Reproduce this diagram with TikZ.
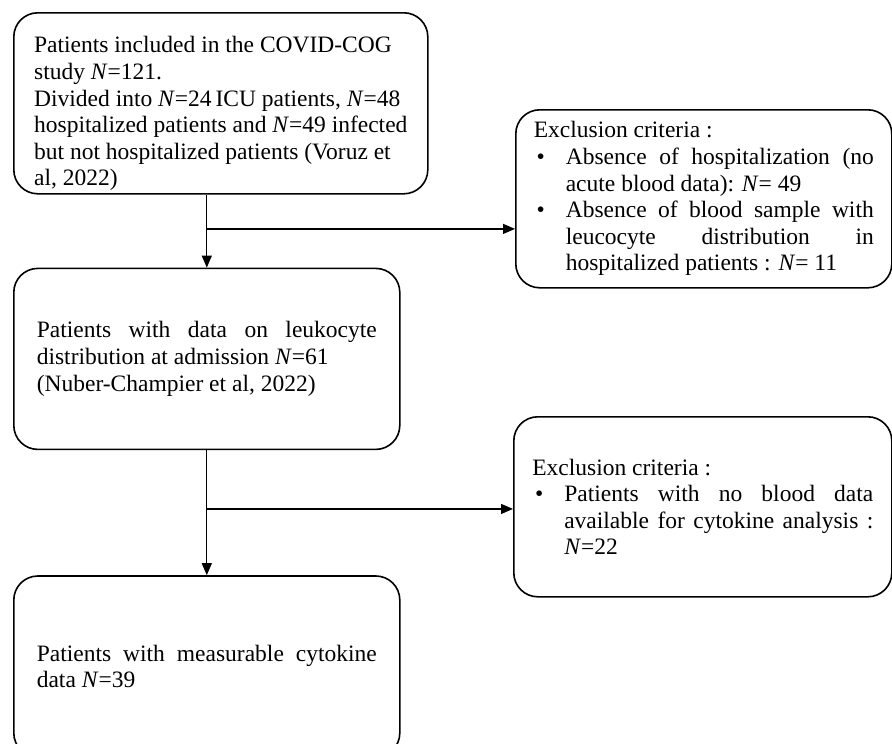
\documentclass[tikz,border=0pt]{standalone}
\usepackage{fontspec}
\setmainfont{Liberation Serif}
\usetikzlibrary{arrows.meta, positioning, calc}
\setlength{\parindent}{0pt}
\newcommand{\exclitem}[1]{\par\noindent\hangindent=32pt\hangafter=0\llap{\textbullet\hspace{21pt}}#1\par}

\begin{document}
\begin{tikzpicture}[
            x=1pt, y=1pt,
            node distance=73pt,
            roundbox/.style={draw=black, line width=1.6pt, rounded corners=24pt, inner sep=0pt,
                font=\fontsize{23.5}{26.6}\selectfont, align=justify},
            arrowline/.style={line width=1.2pt, -{Triangle[width=10pt, length=12pt]}},
            ]
            \useasboundingbox (0,0) rectangle (892,-744);
            \node[roundbox, align=left, minimum width=414pt, minimum height=181pt, anchor=north west] (incl) at (13,-12)
                {\rule{0pt}{37pt}Patients included in the COVID-COG\\ study \textit{N}=121.\\ Divided into \textit{N}=24\,ICU patients, \textit{N}=48\\ hospitalized patients and \textit{N}=49 infected\\ but not hospitalized patients (Voruz et\\ al, 2022)};
            \node[roundbox, minimum width=386pt, minimum height=181pt, text width=340pt,
                below=73pt of incl.south west, anchor=north west] (leuko)
                {Patients with data on leukocyte\linebreak distribution at admission \textit{N}=61\hfil\break (Nuber-Champier et al, 2022)};
            \node[roundbox, minimum width=386pt, minimum height=181pt, text width=340pt,
                below=125pt of leuko.south west, anchor=north west] (cyto)
                {Patients with measurable cytokine\linebreak data \textit{N}=39};
            \node[roundbox, minimum width=376pt, minimum height=178pt, text width=340pt, anchor=north west] (excl1) at (515,-109)
                {Exclusion criteria :\par
                \exclitem{Absence of hospitalization (no\linebreak acute blood data): \textit{N}= 49}
                \exclitem{Absence of blood sample with\linebreak leucocyte distribution in\linebreak hospitalized patients : \textit{N}= 11}};
            \node[roundbox, minimum width=378pt, minimum height=180pt, text width=341pt, anchor=north west] (excl2) at (513,-416)
                {Exclusion criteria :\par
                \exclitem{Patients with no blood data\linebreak available for cytokine analysis :\linebreak \textit{N}=22}};

            \coordinate (split1) at ($(leuko.north |- incl.south)!0.47!(leuko.north)$);
            \coordinate (split2) at ($(cyto.north |- leuko.south)!0.47!(cyto.north)$);
            \draw[arrowline] (leuko.north |- incl.south) -- (leuko.north);
            \draw[arrowline] (split1) -- (split1 -| excl1.west);
            \draw[arrowline] (cyto.north |- leuko.south) -- (cyto.north);
            \draw[arrowline] (split2) -- (split2 -| excl2.west);
        \end{tikzpicture}
\end{document}
